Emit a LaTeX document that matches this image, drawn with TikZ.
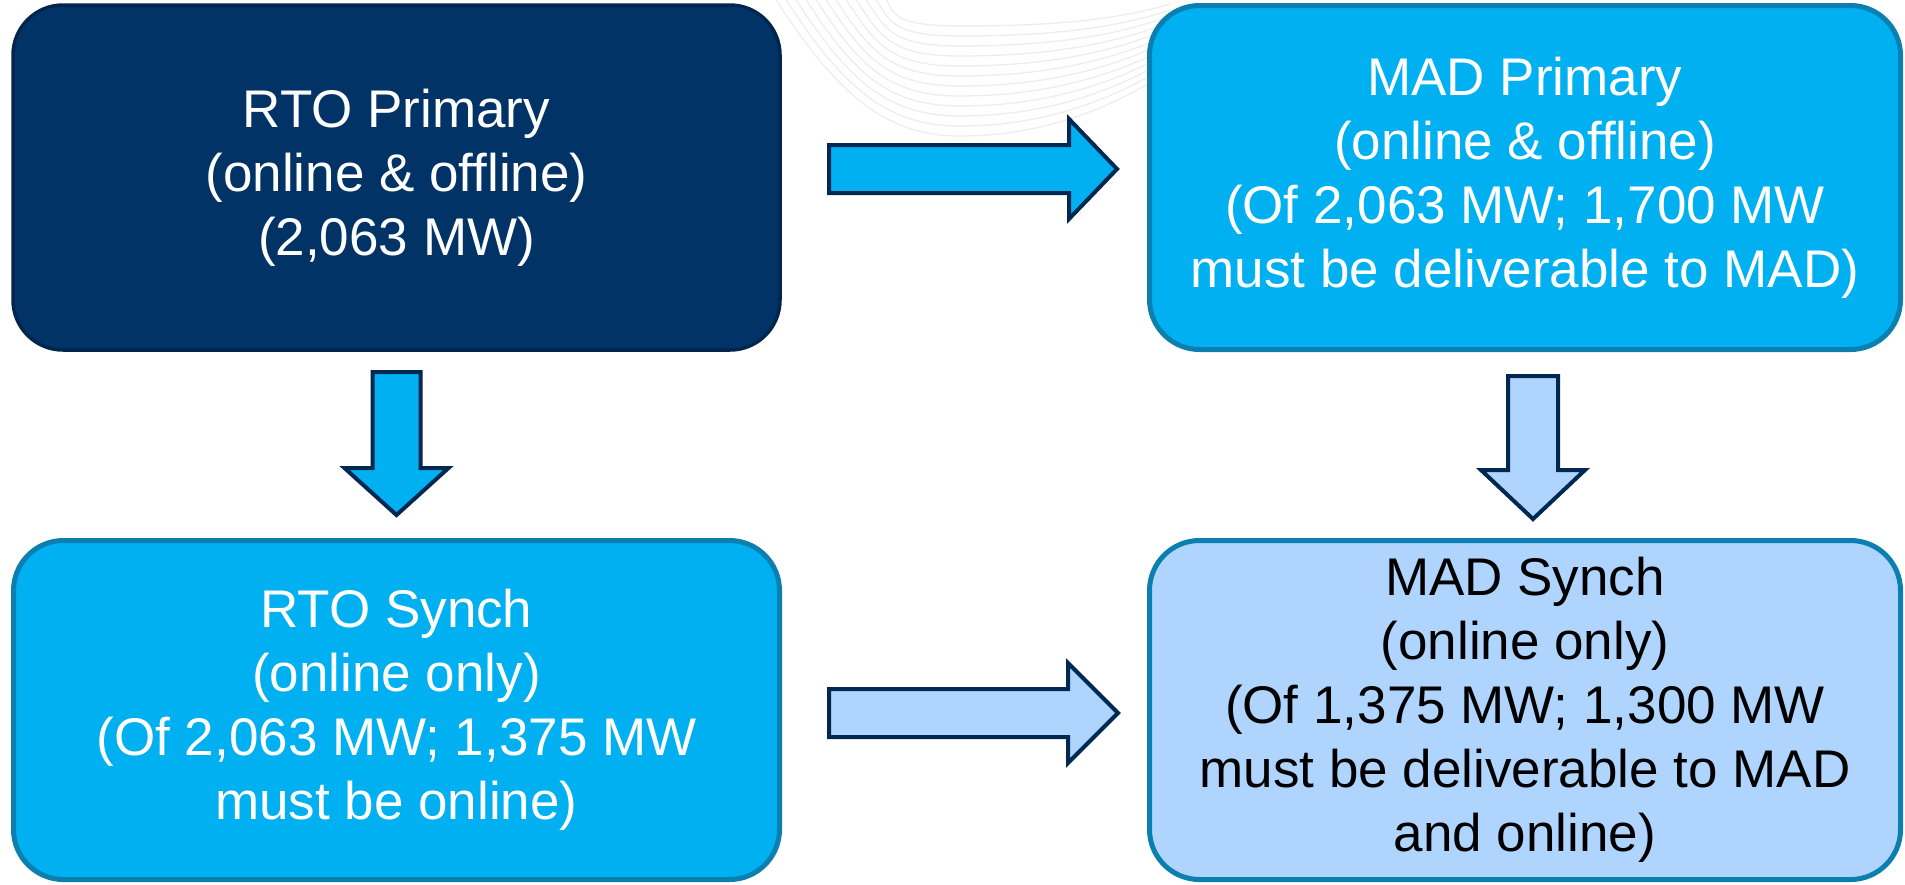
\documentclass[tikz,border=0pt]{standalone}
\usepackage{xcolor}
\usepackage{fontspec}
\usepackage{tikz}
\usetikzlibrary{positioning, calc}
\setmainfont{Liberation Sans}
\definecolor{navy}{HTML}{013366}
\definecolor{navyedge}{HTML}{00264D}
\definecolor{sky}{HTML}{00B0F0}
\definecolor{skyedge}{HTML}{0B80B0}
\definecolor{pale}{HTML}{AFD5FE}
\definecolor{arrowedge}{HTML}{012850}
% struts so the lines sit a little low, like slide text
\newcommand{\topstrut}{\rule{0pt}{1.09em}}
\newcommand{\bottomstrut}{\rule[-0.212em]{0pt}{0.212em}}
\tikzstyle{box}        = [rectangle, rounded corners=50pt, align=center,
                          inner sep=0pt, line width=5pt, draw=skyedge,
                          font=\fontsize{53}{64}\selectfont,
                          execute at begin node=\topstrut,
                          execute at end node=\bottomstrut]
\tikzstyle{blockarrow} = [line width=4pt, draw=arrowedge, miter limit=10]
\tikzstyle{swoosh}     = [line width=1.3pt, draw=black!7]

\begin{document}
\begin{tikzpicture}[x=1pt, y=-1pt]
  \useasboundingbox (0,0) rectangle (1905,884);

  %% faint background lines
  \foreach \k in {0,...,11} {
    \draw[swoosh] (775+10*\k,-2) .. controls (840+5*\k,100-8*\k) and (890,136-10*\k)
      .. (960,136-10*\k) .. controls (1040,136-10*\k) and (1110,110-8*\k) .. (1170,70-6*\k);
  }

  %% RTO side
  \node[box, fill=navy, draw=navyedge, line width=3.5pt, text=white,
        minimum width=767pt, minimum height=345pt] (rtoprim) at (396.5,177.5)
        {RTO Primary\\(online \& offline)\\(2,063 MW)};
  \node[box, fill=sky, text=white, minimum width=766pt, minimum height=339pt]
        (rtosynch) at (396.5,710)
        {RTO Synch\\(online only)\\(Of 2,063 MW; 1,375 MW\\must be online)};

  %% MAD side
  \node[box, fill=sky, text=white, minimum width=751pt, minimum height=344pt]
        (madprim) at (1525,177.5)
        {MAD Primary\\(online \& offline)\\(Of 2,063 MW; 1,700 MW\\must be deliverable to MAD)};
  \node[box, fill=pale, text=black, minimum width=751pt, minimum height=339pt]
        (madsynch) at (1525,710)
        {MAD Synch\\(online only)\\(Of 1,375 MW; 1,300 MW\\must be deliverable to MAD\\and online)};

  %% block arrows
  \coordinate (primtail) at (829,169);
  \coordinate (synchtail) at (829,713);
  \coordinate (rtodown) at (396.5,372);
  \coordinate (maddown) at (1533,376);

  \draw[blockarrow, fill=sky] ($(primtail)+(0,-24)$) -- ++(240,0) -- ++(0,-26)
    -- ++(48,50) -- ++(-48,50) -- ++(0,-26) -- ++(-240,0) -- cycle;
  \draw[blockarrow, fill=pale] ($(synchtail)+(0,-24)$) -- ++(239,0) -- ++(0,-26)
    -- ++(50,50) -- ++(-50,50) -- ++(0,-26) -- ++(-239,0) -- cycle;
  \draw[blockarrow, fill=sky] ($(rtodown)+(-24,0)$) -- ++(0,96) -- ++(-28,0)
    -- ++(52,47) -- ++(52,-47) -- ++(-28,0) -- ++(0,-96) -- cycle;
  \draw[blockarrow, fill=pale] ($(maddown)+(-25,0)$) -- ++(0,94) -- ++(-27,0)
    -- ++(52,49) -- ++(52,-49) -- ++(-27,0) -- ++(0,-94) -- cycle;

\end{tikzpicture}
\end{document}
